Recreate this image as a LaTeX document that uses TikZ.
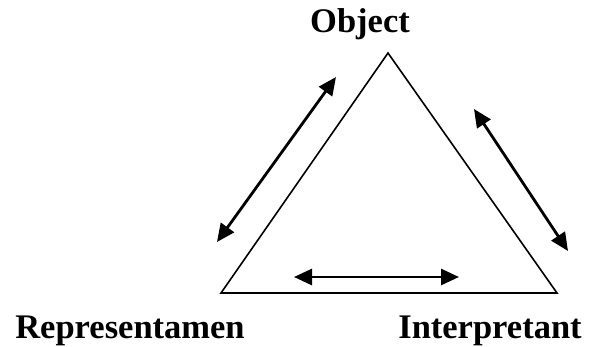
\documentclass[tikz,border=0pt]{standalone}
\usepackage{fontspec}
\setmainfont{Liberation Serif}
\usetikzlibrary{arrows.meta}
\begin{document}
\begin{tikzpicture}[x=1pt,y=-1pt,
  lbl/.style={font=\fontsize{34.5}{40}\selectfont\bfseries, anchor=base, inner sep=0pt},
  tri/.style={line width=1.6pt, line join=miter},
  dbl/.style={line width=2.8pt, {Triangle[length=18pt,width=16pt]}-{Triangle[length=18pt,width=16pt]}}]
\useasboundingbox (0,0) rectangle (589,346);
\node[lbl] (obj) at (360,32) {Object};
\node[lbl] (rep) at (130,338) {Representamen};
\node[lbl] (int) at (490,338) {Interpretant};
\coordinate (A) at (388,53);
\coordinate (L) at (221,293);
\coordinate (R) at (557,293);
\draw[tri] (A) -- (L) -- (R) -- cycle;
\coordinate (l1) at (217,242);
\coordinate (l2) at (336,77);
\coordinate (r1) at (474,109);
\coordinate (r2) at (568,251);
\coordinate (b1) at (294,277);
\coordinate (b2) at (459,277);
\draw[dbl] (l1) -- (l2);
\draw[dbl] (r1) -- (r2);
\draw[dbl] (b1) -- (b2);
\end{tikzpicture}
\end{document}
